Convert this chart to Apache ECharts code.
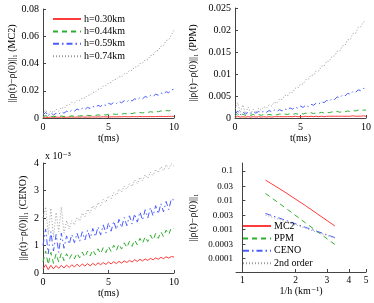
<!DOCTYPE html>
<html><head><meta charset="utf-8">
<script src="https://cdn.jsdelivr.net/npm/echarts@6/dist/echarts.min.js"></script>
<style>html,body{margin:0;padding:0;background:#fff}#c{width:374px;height:303px}</style>
</head><body><div id="c"></div>
<script>
// time axis (ms)
const tMs = [0,0.2,0.4,0.6,0.8,1,1.2,1.4,1.6,1.8,
  2,2.2,2.4,2.6,2.8,3,3.2,3.4,3.6,3.8,
  4,4.2,4.4,4.6,4.8,5,5.2,5.4,5.6,5.8,
  6,6.2,6.4,6.6,6.8,7,7.2,7.4,7.6,7.8,
  8,8.2,8.4,8.6,8.8,9,9.2,9.4,9.6,9.8,10];
const hNames = ['h=0.30km','h=0.44km','h=0.59km','h=0.74km'];

// MC2 panel
const mc2_030 = [0.0003,0.0006,0.0004,0.0007,0.0005,0.0006,0.0005,0.0007,0.0005,0.0006,
  0.0006,0.0007,0.0006,0.0007,0.0006,0.0008,0.0006,0.0007,0.0007,0.0008,
  0.0007,0.0008,0.0007,0.0009,0.0008,0.0008,0.0008,0.0009,0.0008,0.0009,
  0.0009,0.0010,0.0009,0.0009,0.0010,0.0010,0.0009,0.0011,0.0010,0.0010,
  0.0010,0.0011,0.0010,0.0011,0.0011,0.0012,0.0011,0.0011,0.0012,0.0012,0.0012];
const mc2_044 = [0.0010,0.0018,0.0008,0.0014,0.0009,0.0013,0.0010,0.0015,0.0011,0.0014,
  0.0012,0.0016,0.0012,0.0017,0.0014,0.0018,0.0015,0.0020,0.0017,0.0021,
  0.0019,0.0023,0.0020,0.0025,0.0022,0.0027,0.0024,0.0029,0.0026,0.0031,
  0.0028,0.0033,0.0030,0.0035,0.0032,0.0038,0.0035,0.0040,0.0037,0.0043,
  0.0040,0.0046,0.0043,0.0049,0.0046,0.0052,0.0049,0.0055,0.0052,0.0058,0.0060];
const mc2_059 = [0.0020,0.0042,0.0015,0.0038,0.0022,0.0035,0.0028,0.0045,0.0035,0.0050,
  0.0042,0.0058,0.0050,0.0066,0.0056,0.0072,0.0063,0.0078,0.0070,0.0085,
  0.0078,0.0092,0.0085,0.0100,0.0092,0.0108,0.0100,0.0115,0.0106,0.0121,
  0.0112,0.0127,0.0118,0.0134,0.0125,0.0141,0.0133,0.0149,0.0141,0.0158,
  0.0150,0.0166,0.0158,0.0175,0.0167,0.0184,0.0176,0.0193,0.0186,0.0205,0.0212];
const mc2_074 = [0.0030,0.0058,0.0028,0.0052,0.0040,0.0065,0.0050,0.0078,0.0068,0.0092,
  0.0095,0.0115,0.0110,0.0130,0.0128,0.0148,0.0146,0.0168,0.0166,0.0188,
  0.0190,0.0210,0.0212,0.0235,0.0237,0.0258,0.0260,0.0282,0.0283,0.0305,
  0.0300,0.0325,0.0325,0.0350,0.0350,0.0375,0.0375,0.0400,0.0402,0.0428,
  0.0428,0.0458,0.0460,0.0492,0.0495,0.0528,0.0532,0.0568,0.0574,0.0610,0.0645];

// PPM panel
const ppm_030 = [0.0001,0.0004,0.0002,0.0003,0.0002,0.0003,0.0002,0.0003,0.0002,0.0003,
  0.0002,0.0003,0.0002,0.0003,0.0002,0.0003,0.0003,0.0003,0.0003,0.0003,
  0.0003,0.0003,0.0003,0.0004,0.0003,0.0003,0.0003,0.0004,0.0003,0.0004,
  0.0003,0.0004,0.0003,0.0004,0.0003,0.0004,0.0004,0.0004,0.0004,0.0004,
  0.0004,0.0004,0.0004,0.0004,0.0004,0.0005,0.0004,0.0004,0.0004,0.0005,0.0004];
const ppm_044 = [0.0004,0.0010,0.0005,0.0009,0.0006,0.0008,0.0006,0.0008,0.0006,0.0008,
  0.0006,0.0008,0.0007,0.0008,0.0007,0.0009,0.0007,0.0009,0.0008,0.0009,
  0.0008,0.0010,0.0008,0.0010,0.0009,0.0011,0.0009,0.0011,0.0010,0.0012,
  0.0010,0.0012,0.0011,0.0013,0.0011,0.0013,0.0012,0.0014,0.0013,0.0015,
  0.0013,0.0015,0.0014,0.0016,0.0015,0.0017,0.0016,0.0018,0.0017,0.0018,0.0018];
const ppm_059 = [0.0008,0.0016,0.0007,0.0014,0.0009,0.0013,0.0010,0.0014,0.0011,0.0015,
  0.0012,0.0016,0.0013,0.0017,0.0014,0.0018,0.0015,0.0019,0.0016,0.0021,
  0.0018,0.0023,0.0020,0.0025,0.0022,0.0027,0.0024,0.0029,0.0026,0.0031,
  0.0029,0.0034,0.0032,0.0037,0.0035,0.0040,0.0038,0.0044,0.0042,0.0048,
  0.0046,0.0052,0.0050,0.0056,0.0054,0.0060,0.0058,0.0064,0.0062,0.0067,0.0068];
const ppm_074 = [0.0020,0.0035,0.0012,0.0030,0.0010,0.0025,0.0010,0.0020,0.0012,0.0022,
  0.0018,0.0026,0.0022,0.0030,0.0027,0.0036,0.0034,0.0043,0.0042,0.0052,
  0.0050,0.0059,0.0058,0.0068,0.0068,0.0077,0.0077,0.0087,0.0088,0.0098,
  0.0097,0.0107,0.0107,0.0118,0.0118,0.0129,0.0129,0.0140,0.0141,0.0152,
  0.0152,0.0164,0.0165,0.0178,0.0178,0.0192,0.0192,0.0206,0.0207,0.0218,0.0222];

// CENO panel (units of 1e-3)
const ceno_030 = [0.15,0.30,0.12,0.28,0.15,0.27,0.17,0.28,0.18,0.29,
  0.20,0.30,0.22,0.32,0.23,0.33,0.25,0.34,0.26,0.35,
  0.28,0.37,0.30,0.38,0.31,0.40,0.33,0.41,0.34,0.42,
  0.36,0.44,0.38,0.46,0.40,0.48,0.42,0.50,0.44,0.51,
  0.46,0.53,0.48,0.55,0.50,0.57,0.52,0.59,0.54,0.60,0.58];
const ceno_044 = [0.40,0.80,0.30,0.75,0.35,0.70,0.40,0.72,0.45,0.70,
  0.50,0.68,0.52,0.72,0.55,0.76,0.58,0.80,0.62,0.84,
  0.66,0.88,0.70,0.92,0.74,0.97,0.78,1.01,0.82,1.05,
  0.87,1.10,0.92,1.15,0.97,1.20,1.02,1.26,1.08,1.32,
  1.14,1.38,1.20,1.44,1.26,1.50,1.32,1.56,1.40,1.65,1.62];
const ceno_059 = [1.00,1.60,0.70,1.50,0.80,1.40,0.75,1.45,0.90,1.35,
  1.05,1.40,1.10,1.45,1.15,1.50,1.20,1.56,1.25,1.62,
  1.32,1.68,1.38,1.75,1.45,1.82,1.52,1.88,1.58,1.95,
  1.65,2.02,1.72,2.08,1.78,2.15,1.85,2.22,1.92,2.30,
  2.00,2.38,2.08,2.45,2.15,2.52,2.22,2.60,2.30,2.70,2.65];
const ceno_074 = [2.00,2.40,1.40,2.35,1.30,2.20,1.50,2.40,1.45,1.90,
  1.60,1.90,1.75,2.02,1.90,2.18,2.05,2.32,2.18,2.45,
  2.32,2.56,2.45,2.68,2.58,2.80,2.70,2.92,2.82,3.05,
  2.95,3.15,3.05,3.25,3.15,3.38,3.25,3.48,3.35,3.58,
  3.45,3.66,3.55,3.76,3.65,3.86,3.72,3.94,3.80,3.97,3.88];

// convergence panel
const invH = [1.351, 1.695, 2.273, 3.333];
const convMC2 = [0.049, 0.021, 0.0065, 0.0013];
const convPPM = [0.017, 0.0063, 0.00166, 0.0003];
const convCENO = [0.0035, 0.0022, 0.00117, 0.00052];
const ref2X = [1.351, 3.333];
const ref2Y = [0.0031, 0.00050];
const convNames = ['MC2','PPM','CENO','2nd order'];

const yTicks4 = [0.1,0.03,0.01,0.003,0.001,0.0003,0.0001];
const xTicks4 = [1,2,3,4,5];
const xMin4 = 0.92, xMax4 = 5;

const FONT = '"Liberation Serif", "DejaVu Serif", serif';
const styles = [
  {color:'#ff3b3b', type:'solid'},
  {color:'#2fae2f', type:[5,4]},
  {color:'#4a5cff', type:[6,3,1.5,3]},
  {color:'#9a9a9a', type:[1,2]}
];

const axisCommon = {
  axisLine:{show:true, lineStyle:{color:'#444', width:1}},
  axisTick:{show:true, inside:true, length:3, lineStyle:{color:'#444'}},
  splitLine:{show:false},
  axisLabel:{fontFamily:FONT, fontSize:10, color:'#000', margin:4},
  nameTextStyle:{fontFamily:FONT, fontSize:10, color:'#000'}
};
function ax(extra){ return Object.assign({}, JSON.parse(JSON.stringify(axisCommon)), extra); }

const grids = [
  {left:43, top:9, width:131, height:109},
  {left:235, top:8, width:131, height:110},
  {left:43, top:163, width:131, height:110},
  {left:236, top:163, width:130, height:109}
];

const xAxes = [0,1,2].map(i => ax({type:'value', gridIndex:i, min:0, max:10, interval:5,
  name:'t(ms)', nameLocation:'middle', nameGap:15}));
// log axis carrying the data of the convergence panel
xAxes.push(ax({type:'log', gridIndex:3, min:xMin4, max:xMax4, logBase:10, position:'bottom',
  axisLabel:{show:false}, axisTick:{show:false}}));
// companion axis in log10 units, only for tick marks and labels
const xTickLogs = xTicks4.map(v => Math.log10(v));
xAxes.push(ax({type:'value', gridIndex:3, min:Math.log10(xMin4), max:Math.log10(xMax4), position:'bottom',
  axisLine:{show:false},
  name:'1/h (km⁻¹)', nameLocation:'middle', nameGap:14,
  axisLabel:{fontFamily:FONT, fontSize:9.5, color:'#000', margin:3, customValues:xTickLogs,
    formatter: v => String(Math.round(Math.pow(10, v)))},
  axisTick:{show:true, inside:true, length:3, lineStyle:{color:'#444'}, customValues:xTickLogs}}));

const yName = s => '||ρ(t)−ρ(0)||₁ ' + s;
const yAxes = [
  ax({type:'value', gridIndex:0, min:0, max:0.08, interval:0.02, name:yName('(MC2)'), nameLocation:'middle', nameGap:26}),
  ax({type:'value', gridIndex:1, min:0, max:0.025, interval:0.005, name:yName('(PPM)'), nameLocation:'middle', nameGap:37}),
  ax({type:'value', gridIndex:2, min:0, max:4, interval:1, name:yName('(CENO)'), nameLocation:'middle', nameGap:15}),
  ax({type:'log', gridIndex:3, min:0.000034, max:0.19, logBase:10, name:'||ρ(t)−ρ(0)||₁', nameLocation:'middle', nameGap:38,
    axisLabel:{fontFamily:FONT, fontSize:9, color:'#000', margin:3, customValues:yTicks4},
    axisTick:{show:true, inside:true, length:3, lineStyle:{color:'#444'}, customValues:yTicks4}})
];

function zip(xs, ys){ return xs.map((x,i)=>[x, ys[i]]); }
function lineSeries(name, idx, xs, ys, st){
  return {type:'line', name:name, xAxisIndex:idx, yAxisIndex:idx, data:zip(xs,ys),
    symbol:'none', showSymbol:false, animation:false, silent:true,
    lineStyle:{color:st.color, type:st.type, width:1}, itemStyle:{color:st.color}};
}
const panelData = [
  [mc2_030, mc2_044, mc2_059, mc2_074],
  [ppm_030, ppm_044, ppm_059, ppm_074],
  [ceno_030, ceno_044, ceno_059, ceno_074]
];
const series = [];
panelData.forEach((arrs, p) => arrs.forEach((ys, k) => series.push(lineSeries(hNames[k], p, tMs, ys, styles[k]))));
const s4 = [lineSeries('MC2', 3, invH, convMC2, styles[0]),
  lineSeries('PPM', 3, invH, convPPM, styles[1]),
  lineSeries('CENO', 3, invH, convCENO, styles[2]),
  lineSeries('2nd order', 3, ref2X, ref2Y, styles[3])];
s4.forEach(s => { s.xAxisIndex = 3; s.yAxisIndex = 3; series.push(s); });

const legendBase = {orient:'vertical', itemWidth:28, itemHeight:8, itemGap:2.4, selectedMode:false,
  itemStyle:{opacity:0},
  textStyle:{fontFamily:FONT, fontSize:10, color:'#000', padding:[0,0,0,-2]}, padding:0};
const chart = echarts.init(document.getElementById('c'), null, {renderer:'canvas'});
chart.setOption({
  backgroundColor:'#fff',
  animation:false,
  grid:grids,
  xAxis:xAxes,
  yAxis:yAxes,
  legend:[
    Object.assign({}, legendBase, {data:hNames, left:52, top:14}),
    Object.assign({}, legendBase, {data:convNames, left:242, top:221})
  ],
  graphic:[{type:'text', left:45, top:151, style:{text:'x 10⁻³', font:'10px ' + FONT, fill:'#000'}}],
  series:series
});
</script></body></html>
